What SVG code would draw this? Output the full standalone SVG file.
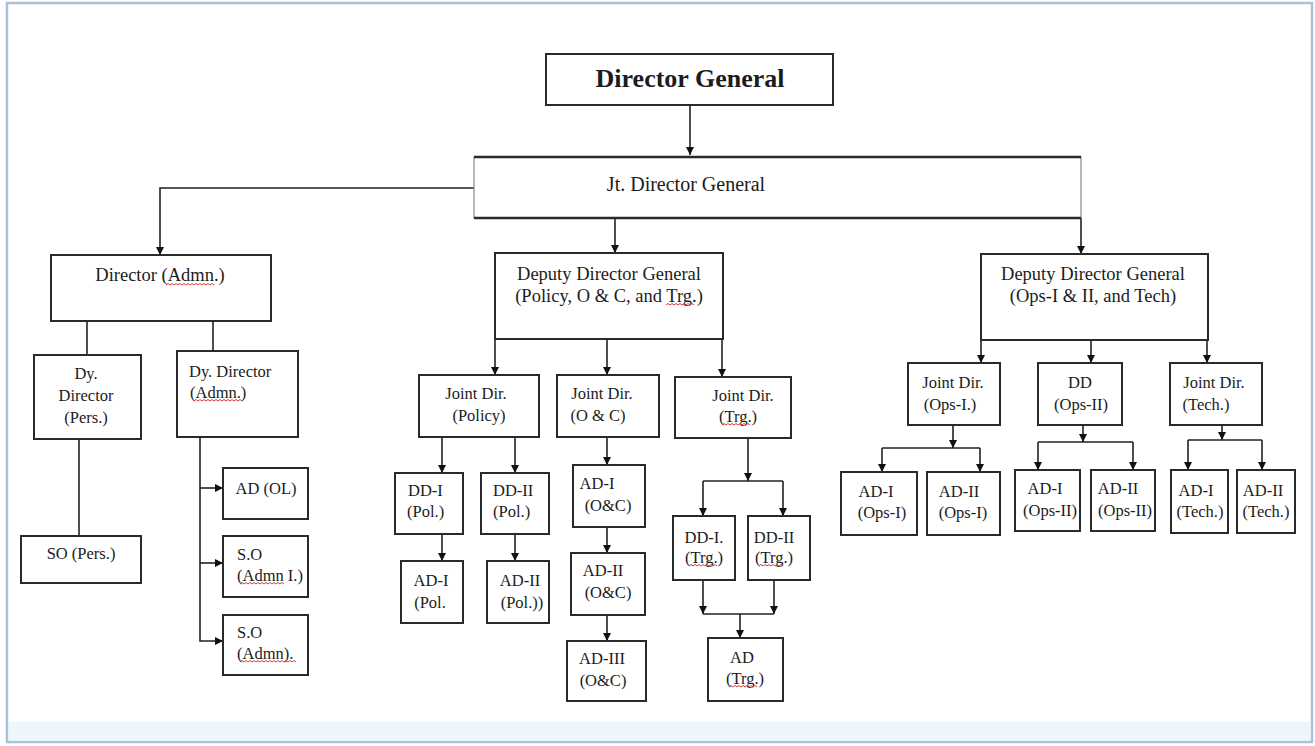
<svg xmlns="http://www.w3.org/2000/svg" width="1315" height="746" viewBox="0 0 1315 746">
<style>
.box{fill:#fff;stroke:#2a2a2a;stroke-width:2}
.t{font-family:"Liberation Serif","Times New Roman",serif;fill:#1c1c1c;font-size:16.5px;text-anchor:middle}
.l{text-anchor:start}
.big{font-size:18.5px}
.con{fill:none;stroke:#222;stroke-width:1.6}
.arr{marker-end:url(#ah)}
.sp{fill:none;stroke:#d83a3a;stroke-width:1}
</style>
<defs>
<marker id="ah" markerUnits="userSpaceOnUse" markerWidth="8" markerHeight="8" refX="8" refY="4" orient="auto" viewBox="0 0 8 8"><path d="M0,0 L8,4 L0,8 z" fill="#111"/></marker>
</defs>
<rect x="0" y="0" width="1315" height="746" fill="#fff"/>
<rect x="7" y="3" width="1305" height="739" fill="#fff" stroke="#a9c2da" stroke-width="2.5"/>
<rect x="9" y="722" width="1301" height="18" fill="#eef5fb"/>

<g id="connectors">
<path class="con arr" d="M690,105 V155"/>
<path class="con arr" d="M474,188 H160 V255"/>
<path class="con arr" d="M615,218 V253"/>
<path class="con arr" d="M1081,218 V254"/>
<path class="con" d="M87,321 V355"/>
<path class="con" d="M213,321 V351"/>
<path class="con" d="M79,439 V536"/>
<path class="con arr" d="M200,437 V641 H223"/>
<path class="con arr" d="M200,488 H223"/>
<path class="con arr" d="M200,563 H223"/>
<path class="con arr" d="M495,339 V375"/>
<path class="con arr" d="M607,339 V375"/>
<path class="con arr" d="M722,339 V377"/>
<path class="con arr" d="M442,437 V473"/>
<path class="con arr" d="M515,437 V473"/>
<path class="con arr" d="M442,534 V561"/>
<path class="con arr" d="M515,534 V561"/>
<path class="con arr" d="M607,437 V465"/>
<path class="con arr" d="M607,527 V553"/>
<path class="con arr" d="M607,615 V641"/>
<path class="con arr" d="M748,438 V481"/>
<path class="con" d="M703,481 H783"/>
<path class="con arr" d="M703,481 V516"/>
<path class="con arr" d="M783,481 V516"/>
<path class="con arr" d="M703,580 V614"/>
<path class="con arr" d="M774,580 V614"/>
<path class="con" d="M703,614 H774"/>
<path class="con arr" d="M740,614 V638"/>
<path class="con arr" d="M981,340 V363"/>
<path class="con arr" d="M1091,340 V363"/>
<path class="con arr" d="M1207,340 V363"/>
<path class="con arr" d="M953,425 V448"/>
<path class="con" d="M882,448 H980"/>
<path class="con arr" d="M882,448 V472"/>
<path class="con arr" d="M980,448 V472"/>
<path class="con arr" d="M1083,425 V442"/>
<path class="con" d="M1038,442 H1133"/>
<path class="con arr" d="M1038,442 V470"/>
<path class="con arr" d="M1133,442 V470"/>
<path class="con arr" d="M1222,425 V440"/>
<path class="con" d="M1188,440 H1262"/>
<path class="con arr" d="M1188,440 V470"/>
<path class="con arr" d="M1262,440 V470"/>
</g>

<g id="dg"><rect class="box" x="546" y="54" width="287" height="51"/><text class="t" x="690" y="87" style="font-size:26px;font-weight:bold">Director General</text></g>
<g id="jtdg"><rect x="474" y="157" width="607" height="61" fill="#fff" stroke="#888" stroke-width="1.2"/><path d="M474,157 H1081 M474,218 H1081" stroke="#2a2a2a" stroke-width="2.5"/><text class="t" x="686" y="191" style="font-size:20px">Jt. Director General</text></g>

<g id="dir-admn"><rect class="box" x="51" y="255" width="220" height="66"/><text class="t big" x="160" y="281">Director (Admn.)</text></g>
<g id="dy-pers"><rect class="box" x="34" y="355" width="107" height="84"/><text class="t" x="86" y="379">Dy.</text><text class="t" x="86" y="401">Director</text><text class="t" x="86" y="423">(Pers.)</text></g>
<g id="dy-admn"><rect class="box" x="177" y="351" width="121" height="86"/><text class="t l" x="189" y="377">Dy. Director</text><text class="t l" x="190" y="398">(Admn.)</text></g>
<g id="so-pers"><rect class="box" x="21" y="536" width="120" height="47"/><text class="t" x="81" y="559">SO (Pers.)</text></g>
<g id="ad-ol"><rect class="box" x="223" y="468" width="85" height="51"/><text class="t" x="266" y="494">AD (OL)</text></g>
<g id="so-admn1"><rect class="box" x="223" y="536" width="85" height="61"/><text class="t l" x="237" y="560">S.O</text><text class="t l" x="237" y="581">(Admn I.)</text></g>
<g id="so-admn"><rect class="box" x="223" y="615" width="85" height="60"/><text class="t l" x="237" y="638">S.O</text><text class="t l" x="237" y="659">(Admn).</text></g>

<g id="ddg-pol"><rect class="box" x="495" y="253" width="228" height="86"/><text class="t big" x="609" y="280">Deputy Director General</text><text class="t big" x="609" y="302">(Policy, O &amp; C, and Trg.)</text></g>
<g id="jd-pol"><rect class="box" x="419" y="375" width="120" height="62"/><text class="t" x="476" y="399">Joint Dir.</text><text class="t" x="479" y="421">(Policy)</text></g>
<g id="jd-oc"><rect class="box" x="557" y="375" width="102" height="62"/><text class="t" x="602" y="399">Joint Dir.</text><text class="t" x="598" y="421">(O &amp; C)</text></g>
<g id="jd-trg"><rect class="box" x="675" y="377" width="116" height="61"/><text class="t" x="743" y="401">Joint Dir.</text><text class="t" x="738" y="422">(Trg.)</text></g>
<g id="dd1-pol"><rect class="box" x="395" y="473" width="68" height="61"/><text class="t l" x="408" y="496">DD-I</text><text class="t l" x="407" y="517">(Pol.)</text></g>
<g id="dd2-pol"><rect class="box" x="481" y="473" width="68" height="61"/><text class="t l" x="493" y="496">DD-II</text><text class="t l" x="493" y="517">(Pol.)</text></g>
<g id="ad1-pol"><rect class="box" x="401" y="561" width="62" height="62"/><text class="t" x="431" y="586">AD-I</text><text class="t" x="430" y="608">(Pol.</text></g>
<g id="ad2-pol"><rect class="box" x="487" y="561" width="62" height="62"/><text class="t" x="520" y="586">AD-II</text><text class="t" x="522" y="608">(Pol.))</text></g>
<g id="ad1-oc"><rect class="box" x="573" y="465" width="72" height="62"/><text class="t" x="597" y="489">AD-I</text><text class="t" x="608" y="511">(O&amp;C)</text></g>
<g id="ad2-oc"><rect class="box" x="571" y="553" width="74" height="62"/><text class="t" x="603" y="576">AD-II</text><text class="t" x="608" y="598">(O&amp;C)</text></g>
<g id="ad3-oc"><rect class="box" x="567" y="641" width="79" height="60"/><text class="t" x="602" y="664">AD-III</text><text class="t" x="603" y="686">(O&amp;C)</text></g>
<g id="dd1-trg"><rect class="box" x="673" y="516" width="62" height="64"/><text class="t" x="704" y="543">DD-I.</text><text class="t" x="704" y="563">(Trg.)</text></g>
<g id="dd2-trg"><rect class="box" x="748" y="516" width="62" height="64"/><text class="t" x="774" y="543">DD-II</text><text class="t" x="774" y="563">(Trg.)</text></g>
<g id="ad-trg"><rect class="box" x="708" y="638" width="75" height="63"/><text class="t" x="742" y="663">AD</text><text class="t" x="745" y="684">(Trg.)</text></g>

<g id="ddg-ops"><rect class="box" x="981" y="254" width="227" height="86"/><text class="t big" x="1093" y="280">Deputy Director General</text><text class="t big" x="1093" y="302">(Ops-I &amp; II, and Tech)</text></g>
<g id="jd-ops1"><rect class="box" x="908" y="363" width="92" height="62"/><text class="t" x="953" y="388">Joint Dir.</text><text class="t" x="950" y="410">(Ops-I.)</text></g>
<g id="dd-ops2"><rect class="box" x="1038" y="363" width="84" height="62"/><text class="t" x="1080" y="388">DD</text><text class="t" x="1081" y="410">(Ops-II)</text></g>
<g id="jd-tech"><rect class="box" x="1170" y="363" width="92" height="62"/><text class="t" x="1214" y="388">Joint Dir.</text><text class="t" x="1206" y="410">(Tech.)</text></g>
<g id="ad1-ops1"><rect class="box" x="841" y="472" width="76" height="63"/><text class="t" x="876" y="497">AD-I</text><text class="t" x="882" y="518">(Ops-I)</text></g>
<g id="ad2-ops1"><rect class="box" x="927" y="472" width="73" height="63"/><text class="t" x="959" y="497">AD-II</text><text class="t" x="963" y="518">(Ops-I)</text></g>
<g id="ad1-ops2"><rect class="box" x="1015" y="470" width="65" height="61"/><text class="t" x="1045" y="494">AD-I</text><text class="t" x="1050" y="516">(Ops-II)</text></g>
<g id="ad2-ops2"><rect class="box" x="1091" y="470" width="64" height="61"/><text class="t" x="1118" y="494">AD-II</text><text class="t" x="1125" y="516">(Ops-II)</text></g>
<g id="ad1-tech"><rect class="box" x="1171" y="470" width="57" height="63"/><text class="t" x="1196" y="496">AD-I</text><text class="t" x="1200" y="517">(Tech.)</text></g>
<g id="ad2-tech"><rect class="box" x="1237" y="470" width="58" height="63"/><text class="t" x="1263" y="496">AD-II</text><text class="t" x="1266" y="517">(Tech.)</text></g>

<g id="spellcheck">
<path class="sp" d="M166,285 l2,-1.5 l2,1.5 l2,-1.5 l2,1.5 l2,-1.5 l2,1.5 l2,-1.5 l2,1.5 l2,-1.5 l2,1.5 l2,-1.5 l2,1.5 l2,-1.5 l2,1.5 l2,-1.5 l2,1.5 l2,-1.5 l2,1.5 l2,-1.5 l2,1.5 l2,-1.5 l2,1.5 l2,-1.5 l2,1.5"/>
<path class="sp" d="M194,401 l2,-1.5 l2,1.5 l2,-1.5 l2,1.5 l2,-1.5 l2,1.5 l2,-1.5 l2,1.5 l2,-1.5 l2,1.5 l2,-1.5 l2,1.5 l2,-1.5 l2,1.5 l2,-1.5 l2,1.5 l2,-1.5 l2,1.5 l2,-1.5 l2,1.5 l2,-1.5 l2,1.5 l2,-1.5 l2,1.5"/>
<path class="sp" d="M240,584 l2,-1.5 l2,1.5 l2,-1.5 l2,1.5 l2,-1.5 l2,1.5 l2,-1.5 l2,1.5 l2,-1.5 l2,1.5 l2,-1.5 l2,1.5 l2,-1.5 l2,1.5 l2,-1.5 l2,1.5 l2,-1.5 l2,1.5 l2,-1.5 l2,1.5 l2,-1.5 l2,1.5"/>
<path class="sp" d="M240,662 l2,-1.5 l2,1.5 l2,-1.5 l2,1.5 l2,-1.5 l2,1.5 l2,-1.5 l2,1.5 l2,-1.5 l2,1.5 l2,-1.5 l2,1.5 l2,-1.5 l2,1.5 l2,-1.5 l2,1.5 l2,-1.5 l2,1.5 l2,-1.5 l2,1.5 l2,-1.5 l2,1.5 l2,-1.5 l2,1.5 l2,-1.5 l2,1.5 l2,-1.5 l2,1.5"/>
<path class="sp" d="M666,305 l2,-1.5 l2,1.5 l2,-1.5 l2,1.5 l2,-1.5 l2,1.5 l2,-1.5 l2,1.5 l2,-1.5 l2,1.5 l2,-1.5 l2,1.5 l2,-1.5 l2,1.5"/>
<path class="sp" d="M722,425 l2,-1.5 l2,1.5 l2,-1.5 l2,1.5 l2,-1.5 l2,1.5 l2,-1.5 l2,1.5 l2,-1.5 l2,1.5 l2,-1.5 l2,1.5 l2,-1.5 l2,1.5"/>
<path class="sp" d="M689,566 l2,-1.5 l2,1.5 l2,-1.5 l2,1.5 l2,-1.5 l2,1.5 l2,-1.5 l2,1.5 l2,-1.5 l2,1.5 l2,-1.5 l2,1.5 l2,-1.5 l2,1.5"/>
<path class="sp" d="M759,566 l2,-1.5 l2,1.5 l2,-1.5 l2,1.5 l2,-1.5 l2,1.5 l2,-1.5 l2,1.5 l2,-1.5 l2,1.5 l2,-1.5 l2,1.5"/>
<path class="sp" d="M729,687 l2,-1.5 l2,1.5 l2,-1.5 l2,1.5 l2,-1.5 l2,1.5 l2,-1.5 l2,1.5 l2,-1.5 l2,1.5 l2,-1.5 l2,1.5 l2,-1.5 l2,1.5"/>
</g>
</svg>
